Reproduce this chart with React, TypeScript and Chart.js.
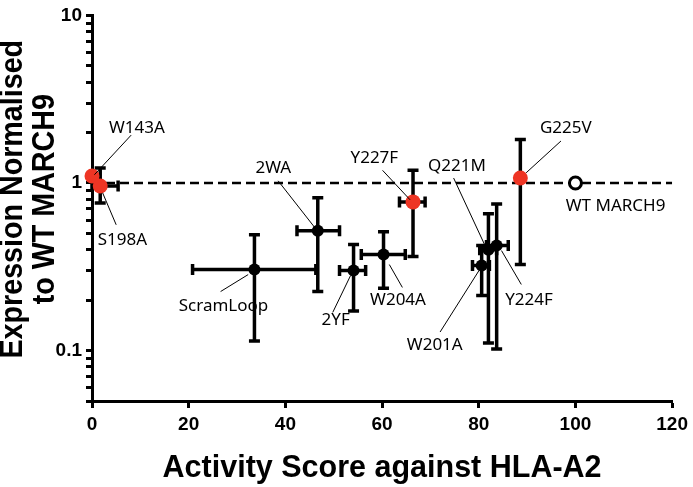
import React, { useEffect, useRef } from 'react';
import { Chart, registerables } from 'chart.js';

Chart.register(...registerables);

// ---- data ----
const mutants = ['W143A', 'S198A', '2WA', 'ScramLoop', '2YF', 'W204A', 'Y227F', 'G225V', 'W201A', 'Q221M', 'Y224F', 'WT MARCH9'];
const activity = [0, 1.7, 46.7, 33.6, 54.1, 60.3, 66.4, 88.6, 80.6, 82.0, 83.7, 100];
const expression = [1.10, 0.96, 0.519, 0.305, 0.300, 0.374, 0.771, 1.07, 0.322, 0.400, 0.423, 1];
const activityLow = [null, 0, 42.4, 20.8, 51.2, 55.7, 63.6, null, 78.7, 80.2, 81.6, null];
const activityHigh = [null, 5.4, 51.2, 46.3, 56.6, 64.8, 68.9, null, 82.2, 83.7, 86.1, null];
const expressionLow = [null, 0.76, 0.225, 0.114, 0.172, 0.235, 0.364, 0.326, 0.213, 0.111, 0.102, null];
const expressionHigh = [null, 1.23, 0.815, 0.491, 0.429, 0.512, 1.19, 1.82, 0.423, 0.655, 0.75, null];
const group = ['red', 'red', 'black', 'black', 'black', 'black', 'red', 'red', 'black', 'black', 'black', 'wt'];
const xTickValues = [0, 20, 40, 60, 80, 100, 120];
const yTickValues = [
  0.05, 0.06, 0.07, 0.08, 0.09,
  0.1, 0.2, 0.3, 0.4, 0.5, 0.6, 0.7, 0.8, 0.9,
  1, 2, 3, 4, 5, 6, 7, 8, 9,
  10,
];
const yTickLabels = [0.1, 1, 10];
const referenceLevel = 1;
const xTitle = 'Activity Score against HLA-A2';
const yTitle = ['Expression Normalised', 'to WT MARCH9'];

// ---- annotation layout (data units) ----
const labelAt: number[][] = [
  [9.3, 2.12], [6.3, 0.453], [37.5, 1.23], [27.2, 0.184], [50.4, 0.152], [63.3, 0.1995],
  [58.4, 1.41], [98.0, 2.12], [70.9, 0.108], [75.5, 1.26], [90.4, 0.1995], [108.3, 0.73],
];
const leaderFrom: (number[] | null)[] = [
  [8.1, 1.93], [5.0, 0.563], [38.5, 1.03], [26.6, 0.225], [49.8, 0.169], [64.2, 0.238],
  [60.1, 1.19], [97.0, 1.78], [72.0, 0.129], [74.8, 1.07], [88.8, 0.248], null,
];
const leaderTo: (number[] | null)[] = [
  [0.5, 1.12], [2.2, 0.873], [46.1, 0.541], [32.3, 0.284], [53.5, 0.281], [61.5, 0.326],
  [65.8, 0.793], [89.8, 1.15], [80.2, 0.305], [81.2, 0.429], [84.7, 0.395], null,
];

const RED = '#ee3524';
const BOLD_FAMILY = "'Liberation Sans', Arial, sans-serif";
const LABEL_FONT = "17px 'Noto Sans', sans-serif";
const TITLE_FONT = `bold 30.5px ${BOLD_FAMILY}`;

const annotate = {
  id: 'annotate',
  beforeDatasetsDraw(chart: any) {
    const { ctx, scales } = chart;
    const xs = scales.x, ys = scales.y;
    ctx.save();
    ctx.strokeStyle = '#000';
    ctx.lineWidth = 3.5;
    ctx.lineCap = 'butt';
    const cap = 5.5;
    for (let i = 0; i < mutants.length; i++) {
      const px = xs.getPixelForValue(activity[i]);
      const py = ys.getPixelForValue(expression[i]);
      const xl = activityLow[i], xh = activityHigh[i];
      if (xl !== null && xh !== null) {
        const a = xs.getPixelForValue(xl), b = xs.getPixelForValue(xh);
        ctx.beginPath();
        ctx.moveTo(a, py); ctx.lineTo(b, py);
        ctx.moveTo(a, py - cap); ctx.lineTo(a, py + cap);
        ctx.moveTo(b, py - cap); ctx.lineTo(b, py + cap);
        ctx.stroke();
      }
      const yl = expressionLow[i], yh = expressionHigh[i];
      if (yl !== null && yh !== null) {
        const a = ys.getPixelForValue(yl), b = ys.getPixelForValue(yh);
        ctx.beginPath();
        ctx.moveTo(px, a); ctx.lineTo(px, b);
        ctx.moveTo(px - cap, a); ctx.lineTo(px + cap, a);
        ctx.moveTo(px - cap, b); ctx.lineTo(px + cap, b);
        ctx.stroke();
      }
    }
    ctx.restore();
  },
  afterDatasetsDraw(chart: any) {
    const { ctx, scales, chartArea } = chart;
    const xs = scales.x, ys = scales.y;
    ctx.save();
    ctx.strokeStyle = '#000';
    ctx.lineWidth = 1;
    for (let i = 0; i < mutants.length; i++) {
      const f = leaderFrom[i], t = leaderTo[i];
      if (f && t) {
        ctx.beginPath();
        ctx.moveTo(xs.getPixelForValue(f[0]), ys.getPixelForValue(f[1]));
        ctx.lineTo(xs.getPixelForValue(t[0]), ys.getPixelForValue(t[1]));
        ctx.stroke();
      }
    }
    ctx.fillStyle = '#000';
    ctx.font = LABEL_FONT;
    ctx.textAlign = 'center';
    ctx.textBaseline = 'middle';
    for (let i = 0; i < mutants.length; i++) {
      ctx.fillText(mutants[i], xs.getPixelForValue(labelAt[i][0]), ys.getPixelForValue(labelAt[i][1]));
    }

    // axis titles
    ctx.font = TITLE_FONT;
    ctx.textAlign = 'center';
    ctx.textBaseline = 'alphabetic';
    ctx.fillText(xTitle, (chartArea.left + chartArea.right) / 2, chart.height - 10);

    ctx.save();
    ctx.translate(0, (chartArea.top + chartArea.bottom) / 2 - 9);
    ctx.rotate(-Math.PI / 2);
    ctx.scale(0.94, 1);
    ctx.textBaseline = 'middle';
    yTitle.forEach((line, k) => ctx.fillText(line, 0, 14 + k * 32));
    ctx.restore();

    ctx.restore();
  },
};

export default function App() {
  const ref = useRef<HTMLCanvasElement | null>(null);
  useEffect(() => {
    document.body.style.margin = '0';
    const pts = (g: string) =>
      activity.map((x, i) => ({ x, y: expression[i], g: group[i] })).filter((p) => p.g === g).map((p) => ({ x: p.x, y: p.y }));
    const chart = new Chart(ref.current as HTMLCanvasElement, {
      type: 'scatter',
      data: {
        datasets: [
          {
            label: 'WT',
            data: pts('wt'),
            pointRadius: 6,
            pointBackgroundColor: '#fff',
            pointBorderColor: '#000',
            pointBorderWidth: 3,
            clip: false,
            order: 0,
          } as any,
          {
            label: 'red',
            data: pts('red'),
            pointRadius: 7.5,
            pointBackgroundColor: RED,
            pointBorderColor: RED,
            pointBorderWidth: 0,
            clip: false,
            order: 1,
          },
          {
            label: 'black',
            data: pts('black'),
            pointRadius: 6,
            pointBackgroundColor: '#000',
            pointBorderColor: '#000',
            pointBorderWidth: 0,
            clip: false,
            order: 2,
          },
          {
            type: 'line',
            label: 'ref',
            data: [
              { x: xTickValues[0], y: referenceLevel },
              { x: xTickValues[xTickValues.length - 1], y: referenceLevel },
            ],
            borderColor: '#000',
            borderWidth: 2.5,
            borderDash: [9, 5],
            pointRadius: 0,
            order: 10,
          } as any,
        ],
      },
      options: {
        animation: false,
        responsive: false,
        events: [],
        layout: { padding: { top: 13, right: 17, left: 0, bottom: 0 } },
        plugins: { legend: { display: false }, tooltip: { enabled: false } },
        scales: {
          x: {
            type: 'linear',
            min: 0,
            max: 120,
            afterBuildTicks: (s: any) => {
              s.ticks = xTickValues.map((v) => ({ value: v }));
            },
            afterFit: (s: any) => {
              s.height = 86;
            },
            ticks: {
              color: '#000',
              padding: 5,
              font: { family: BOLD_FAMILY, size: 19, weight: 'bold' },
            },
            border: { color: '#000', width: 3 },
            grid: { drawOnChartArea: false, tickLength: 7, tickWidth: 3, tickColor: '#000', color: '#000' },
            title: { display: false },
          },
          y: {
            type: 'logarithmic',
            min: 0.05,
            max: 10,
            afterBuildTicks: (s: any) => {
              s.ticks = yTickValues.map((v) => ({ value: v, major: yTickLabels.includes(v) }));
            },
            afterFit: (s: any) => {
              s.width = 92;
            },
            ticks: {
              autoSkip: false,
              color: '#000',
              padding: 4,
              font: { family: BOLD_FAMILY, size: 19, weight: 'bold' },
              callback: (v: any) => {
                const hit = yTickLabels.find((t) => Math.abs(Math.log10(Number(v)) - Math.log10(t)) < 1e-6);
                return hit !== undefined ? String(hit) : '';
              },
            },
            border: { color: '#000', width: 3 },
            grid: { drawOnChartArea: false, tickLength: 6, tickWidth: 3, tickColor: '#000', color: '#000' },
            title: { display: false },
          },
        },
      } as any,
      plugins: [annotate],
    });
    return () => chart.destroy();
  }, []);
  return (
    <div style={{ width: 693, height: 487, background: '#fff' }}>
      <canvas ref={ref} width={693} height={487} style={{ display: 'block' }} />
    </div>
  );
}
